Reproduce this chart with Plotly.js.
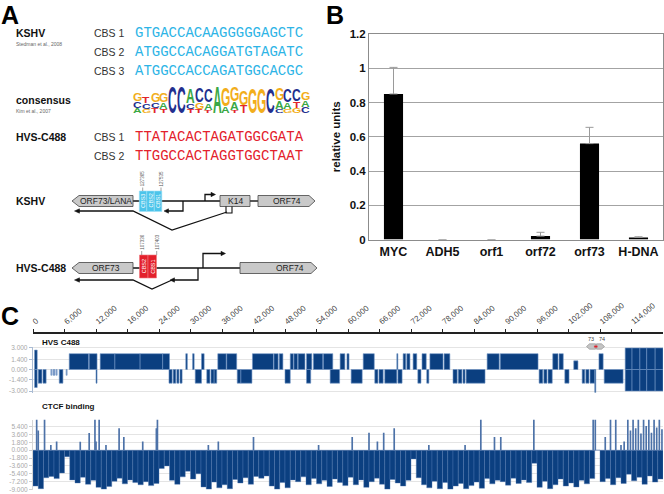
<!DOCTYPE html>
<html><head><meta charset="utf-8">
<script src="https://cdn.plot.ly/plotly-3.0.1.min.js"></script>
<style>html,body{margin:0;padding:0;background:#fff;}#chart{width:664px;height:494px;}</style>
</head><body><div id="chart"></div>
<script>
// ---------------- Panel B data ----------------
const qpcrCategories = ['MYC','ADH5','orf1','orf72','orf73','H-DNA'];
const qpcrValues = [0.85, 0, 0, 0.02, 0.56, 0.012];
const qpcrErrors = [0.155, 0, 0, 0.022, 0.095, 0.004];

// ---------------- Panel A data ----------------
const kshvSites = ['CBS 1','CBS 2','CBS 3'];
const kshvSeqs = ['GTGACCACAAGGGGGAGCTC','ATGGCCACAGGATGTAGATC','ATGGCCACCAGATGGCACGC'];
const hvsSites = ['CBS 1','CBS 2'];
const hvsSeqs = ['TTATACACTAGATGGCGATA','TTGGCCACTAGGTGGCTAAT'];
const logoLetters = ['GCA','TCG','GCT','GAT','C','C','ACT','CGT','CAT','A','GA','GAT','GT','G','G','C','GAC','CAG','CTG','GAC'];
const logoHeights = [[8,6,5],[7,5,4],[9,5,5],[9,6,4],[26],[26],[15,5,4],[15,6,4],[13,7,3],[27],[19,7],[14,8,3],[15,8],[25],[25],[25],[12,8,4],[13,6,4],[12,6,5],[8,6,6]];
const kshvCoords = ['127365','127535'];
const hvsCoords = ['107336','107403'];

// ---------------- Panel C data ----------------
const genomeTickVals = [0,6000,12000,18000,24000,30000,36000,42000,48000,54000,60000,66000,72000,78000,84000,90000,96000,102000,108000,114000];
const genomeTickText = ['0','6,000','12,000','16,000','24,000','30,000','36,000','42,000','48,000','54,000','60,000','66,000','72,000','78,000','84,000','90,000','96,000','102,000','108,000','114,000'];
// ORFs: [start kb, end kb, track value]
const orfPlus = [
[0.3,0.8,2.7],
[6.9,10.6,2.2],[10.7,12.2,2.2],[12.8,15.6,2.2],[15.6,20.4,2.2],[20.4,24.7,2.2],[24.7,26.0,2.2],
[29.1,29.4,2.2],[30.4,30.7,2.2],[32.1,32.6,2.2],[35.2,36.8,2.2],[36.9,38.8,2.2],
[41.8,45.8,2.2],[45.9,46.7,2.2],[46.9,47.6,2.2],[49.0,49.6,2.2],[49.7,50.4,2.2],[50.5,51.8,2.2],
[52.1,53.1,2.2],[53.4,55.2,2.2],[55.3,57.1,2.2],[58.5,59.4,2.2],[59.8,60.2,2.2],[62.9,65.0,2.2],
[69.3,69.5,2.2],[70.5,71.0,2.2],[71.2,71.8,2.2],[72.4,73.1,2.2],[74.1,74.9,2.2],[75.6,78.1,2.2],[78.3,79.4,2.2],
[86.5,88.8,2.2],[89.0,96.2,2.2],[99.0,100.0,2.2],[100.2,101.0,2.2],[103.0,103.8,1.2],[107.8,108.6,2.2],
[112.8,114.1,3.0],[114.1,115.6,3.0],[115.6,116.9,3.0],[116.9,118.5,3.0],[118.5,120.0,3.0]
];
const orfMinus = [
[0.3,0.8,-2.5],[1.0,1.7,-1.9],[1.9,2.5,-1.9],[3.4,3.6,-0.8],[3.8,4.2,-0.8],[4.4,4.6,-0.8],[5.0,5.7,-1.9],[6.3,6.5,-0.8],[12.0,12.2,-1.9],
[25.9,26.5,-1.9],[26.7,27.2,-1.9],[27.4,27.8,-1.9],[28.0,28.4,-1.9],[30.9,32.1,-1.9],[33.1,33.7,-1.9],[33.9,34.5,-1.9],[34.5,35.0,-1.9],
[38.9,39.6,-1.9],[39.6,41.7,-1.9],[48.0,49.0,-1.9],[52.1,52.9,-1.9],[56.6,58.4,-1.9],[60.6,62.7,-1.9],[65.1,65.7,-1.9],[65.9,66.7,-1.9],
[67.0,69.3,-1.9],[69.5,70.3,-1.9],[73.3,73.9,-1.9],[75.0,75.4,-1.9],[80.0,80.8,-1.9],[81.0,81.7,-1.9],[81.9,82.3,-1.9],[82.5,86.1,-1.9],
[96.4,97.1,-1.9],[97.3,97.9,-1.9],[98.1,98.9,-1.9],[101.3,102.1,-1.9],[104.6,105.1,-1.9],[105.3,105.9,-1.9],[106.1,107.0,-1.9],[107.0,107.2,-3.8],
[108.8,112.4,-1.9],
[112.8,114.1,-3.0],[114.1,115.6,-3.0],[115.6,116.9,-3.0],[116.9,118.5,-3.0],[118.5,120.0,-3.0]
];
const hvsTickVals = [3,1.4,0,-1.4,-3];
const hvsTickText = ['3.000','1.400','0.000','-1.400','-3.000'];
// CTCF binding, one value per 1 kb bin (bins 0..119)
const ctcfVals = [-8.2,-8.8,-6.3,-6.0,-6.5,-5.2,-1.5,-6.8,-7.5,-6.2,
-7.8,-6.9,-8.5,-8.9,-8.3,-7.1,-6.4,-7.7,-6.8,-7.4,
-7.9,-7.2,-8.1,-7.6,-4.2,-3.6,-6.9,-7.8,-6.1,-4.8,
-6.6,-5.4,-8.4,-8.9,-7.3,-8.6,-7.9,-8.8,-6.7,-7.5,
-6.3,-7.8,-6.0,-6.4,-5.9,-8.2,-8.9,-7.4,-8.6,-6.8,
-7.2,-6.1,-7.9,-6.5,-7.7,-6.9,-8.3,-6.6,-7.4,-8.1,
-6.2,-7.9,-6.8,-8.5,-7.2,-6.4,-7.8,-8.9,-6.7,-7.5,
-8.2,-6.9,-2.0,-6.3,-7.9,-8.6,-7.1,-8.8,-7.4,-8.9,
-8.2,-7.6,-8.8,-8.1,-7.3,-8.7,-6.5,-7.7,-6.9,-7.2,
-8.0,-6.4,-7.6,-6.8,-7.4,-3.0,-8.5,-7.1,-8.8,-7.9,
-6.6,-8.2,-7.5,-8.4,-6.9,-7.7,-6.5,0,-7.2,-6.5,
-7.9,-6.3,-7.6,-5.5,-7.0,-6.2,-7.8,-5.9,-7.3,-6.6];
const ctcfSpikeKb = [0.7,1.0,2.2,3.4,4.5,9.0,10.7,11.8,12.0,12.6,13.9,16.4,17.3,20.9,23.5,23.7,33.4,35.3,42.0,54.4,60.8,64.0,65.6,66.8,68.8,75.4,82.3,85.3,87.9,89.1,95.4,106.7,107.1,109.0,110.0,111.0,112.0,112.6,113.3,113.8,114.3,114.8,115.3,115.8,116.3,116.8,117.3,117.8,118.3,118.8,119.3,119.8];
const ctcfSpikeVal = [7.0,4.5,7.0,1.2,2.0,1.9,3.9,7.0,2.0,7.0,1.2,5.0,3.0,2.0,5.0,7.0,1.2,2.0,3.0,1.2,3.0,4.0,2.0,4.0,5.0,1.2,1.2,7.0,3.0,3.0,7.0,7.0,7.0,3.0,7.0,7.0,1.2,2.0,7.0,4.5,7.0,5.0,7.0,3.8,7.0,5.5,7.0,4.0,7.0,5.2,7.0,4.8];
const ctcfTickVals = [5.4,3.6,1.8,0,-1.8,-3.6,-5.4,-7.2,-9];
const ctcfTickText = ['5.400','3.600','1.800','0.000','-1.800','-3.600','-5.400','-7.200','-9.000'];

// ---------------- helpers ----------------
const W = 664, H = 494;
const px = x => x / W;
const py = y => 1 - y / H;
const FONT = 'Liberation Sans, Arial, sans-serif';
const BLUE = '#0b3f80', LIGHTBLUE = '#7f9cc8';

const annotations = [];
function txt(x, y, text, size, opts = {}) {
  annotations.push(Object.assign({
    xref:'paper', yref:'paper', x:px(x), y:py(y), text, showarrow:false,
    xanchor:'left', yanchor:'middle', borderpad:0,
    font:{family:FONT, size, color:'#222'}
  }, opts));
}
const shapes = [];
function poly(pts, fill, line, lw, closed = true) {
  const d = 'M ' + pts.map(p => px(p[0]) + ',' + py(p[1])).join(' L ') + (closed ? ' Z' : '');
  shapes.push({type:'path', xref:'paper', yref:'paper', path:d,
    fillcolor: fill || 'rgba(0,0,0,0)', line:{color:line, width:lw}});
}

// ---------------- Panel A ----------------
txt(0, 0, '<b>A</b>', 25, {yanchor:'top', font:{family:FONT,size:25,color:'#000'}});
txt(15, 33, '<b>KSHV</b>', 10.5, {font:{family:FONT,size:10.5,color:'#111'}});
txt(15, 44, 'Stedman et al., 2008', 5, {font:{family:FONT,size:5,color:'#666'}});
kshvSites.forEach((s,i) => {
  const y = 33 + 19*i;
  txt(93, y, s, 10.5, {font:{family:FONT,size:10.5,color:'#333'}});
  txt(134, y, kshvSeqs[i], 14, {font:{family:'Liberation Mono, monospace',size:14,color:'#2db4e6'}});
});
txt(15, 100, '<b>consensus</b>', 10.5, {font:{family:FONT,size:10.5,color:'#111'}});
txt(15, 111, 'Kim et al., 2007', 5, {font:{family:FONT,size:5,color:'#666'}});
txt(15, 137, '<b>HVS-C488</b>', 10.5, {font:{family:FONT,size:10.5,color:'#111'}});
hvsSites.forEach((s,i) => {
  const y = 137 + 19*i;
  txt(93, y, s, 10.5, {font:{family:FONT,size:10.5,color:'#333'}});
  txt(134, y, hvsSeqs[i], 14, {font:{family:'Liberation Mono, monospace',size:14,color:'#e3212b'}});
});

// gene diagrams
const GREY = '#c9c9c9', OUT = '#444';
txt(15, 201, '<b>KSHV</b>', 10.5, {font:{family:FONT,size:10.5,color:'#111'}});
txt(15, 268, '<b>HVS-C488</b>', 10.5, {font:{family:FONT,size:10.5,color:'#111'}});
// KSHV
poly([[133,201],[220,201]], null, '#111', 1.4, false);
poly([[250,201],[258,201]], null, '#111', 1.4, false);
poly([[72,201],[79,195.5],[133,195.5],[133,206.5],[79,206.5]], GREY, OUT, 0.8);
poly([[220,195.5],[250,195.5],[250,206.5],[220,206.5]], GREY, OUT, 0.8);
poly([[258,195.5],[309,195.5],[315,201],[309,206.5],[258,206.5]], GREY, OUT, 0.8);
poly([[205,201],[205,194.5],[211,194.5]], null, '#111', 1.3, false);
poly([[211,192.3],[215.5,194.5],[211,196.7]], '#111', '#111', 0.5);
poly([[79,211],[133,211],[172,230],[227,212]], null, '#111', 1.3, false);
poly([[74.5,211],[79.5,208.8],[79.5,213.2]], '#111', '#111', 0.5);
poly([[168,211],[183,211],[183,201]], null, '#111', 1.3, false);
poly([[164,211],[168.5,208.8],[168.5,213.2]], '#111', '#111', 0.5);
poly([[226,206.5],[226,213],[232,213],[232,206.5]], null, '#111', 1.1, false);
[[139.3,146.8],[146.8,154.3],[154.3,161.8]].forEach(b => poly([[b[0],191],[b[1],191],[b[1],211.5],[b[0],211.5]], '#4cc4ea', '#9fe0f6', 0.6));
['CBS3','CBS2','CBS1'].forEach((t,i) => txt(143 + 7.5*i, 201, t, 5.5, {xanchor:'center', textangle:-90, font:{family:FONT,size:5.5,color:'#fff'}}));
poly([[142.7,187.5],[142.7,191]], null, '#666', 0.6, false);
poly([[161,187.5],[161,191]], null, '#666', 0.6, false);
txt(142.7, 178.5, kshvCoords[0], 4.5, {xanchor:'center', textangle:-90, font:{family:FONT,size:4.5,color:'#555'}});
txt(161, 178.5, kshvCoords[1], 4.5, {xanchor:'center', textangle:-90, font:{family:FONT,size:4.5,color:'#555'}});
txt(106, 201, 'ORF73/LANA', 8.5, {xanchor:'center', font:{family:FONT,size:8.5,color:'#222'}});
txt(235, 201, 'K14', 8.5, {xanchor:'center', font:{family:FONT,size:8.5,color:'#222'}});
txt(287, 201, 'ORF74', 8.5, {xanchor:'center', font:{family:FONT,size:8.5,color:'#222'}});
// HVS
poly([[133,268],[240,268]], null, '#111', 1.4, false);
poly([[72,268],[79,262.5],[133,262.5],[133,273.5],[79,273.5]], GREY, OUT, 0.8);
poly([[240,262.5],[311,262.5],[317,268],[311,273.5],[240,273.5]], GREY, OUT, 0.8);
poly([[203,268],[203,253.5],[221,253.5]], null, '#111', 1.3, false);
poly([[221,251.3],[225.5,253.5],[221,255.7]], '#111', '#111', 0.5);
poly([[79,280],[133,280],[152,289],[172,280]], null, '#111', 1.3, false);
poly([[74.5,280],[79.5,277.8],[79.5,282.2]], '#111', '#111', 0.5);
poly([[174,280],[198,280],[198,268]], null, '#111', 1.3, false);
poly([[170,280],[174.5,277.8],[174.5,282.2]], '#111', '#111', 0.5);
[[139.5,148],[148,156.5]].forEach(b => poly([[b[0],255],[b[1],255],[b[1],278],[b[0],278]], '#e3202b', '#f07a82', 0.6));
['CBS2','CBS1'].forEach((t,i) => txt(143.8 + 8.5*i, 266.5, t, 5.5, {xanchor:'center', textangle:-90, font:{family:FONT,size:5.5,color:'#fff'}}));
poly([[141.7,251],[141.7,255]], null, '#666', 0.6, false);
poly([[156.7,251],[156.7,255]], null, '#666', 0.6, false);
txt(141.7, 242, hvsCoords[0], 4.5, {xanchor:'center', textangle:-90, font:{family:FONT,size:4.5,color:'#555'}});
txt(156.7, 242, hvsCoords[1], 4.5, {xanchor:'center', textangle:-90, font:{family:FONT,size:4.5,color:'#555'}});
txt(106, 268, 'ORF73', 8.5, {xanchor:'center', font:{family:FONT,size:8.5,color:'#222'}});
txt(290, 268, 'ORF74', 8.5, {xanchor:'center', font:{family:FONT,size:8.5,color:'#222'}});

// ---------------- Panel labels B, C ----------------
txt(325, 0, '<b>B</b>', 25, {yanchor:'top', font:{family:FONT,size:25,color:'#000'}});
txt(0, 316, '<b>C</b>', 25, {font:{family:FONT,size:25,color:'#000'}});
txt(41, 342, '<b>HVS C488</b>', 8, {font:{family:FONT,size:8,color:'#111'}});
txt(41, 406, '<b>CTCF binding</b>', 8, {font:{family:FONT,size:8,color:'#111'}});
txt(591, 338.5, '73', 5.5, {xanchor:'center', font:{family:FONT,size:5.5,color:'#444'}});
txt(601.5, 338.5, '74', 5.5, {xanchor:'center', font:{family:FONT,size:5.5,color:'#444'}});
poly([[586.5,346.5],[589.5,343.8],[595.5,343.8],[595.5,349.2],[589.5,349.2]], '#c4c4c4', '#888', 0.6);
poly([[596.5,343.8],[601.5,343.8],[604.5,346.5],[601.5,349.2],[596.5,349.2]], '#c4c4c4', '#888', 0.6);
poly([[594.3,345.8],[597.3,345.8],[597.3,347.3],[594.3,347.3]], '#e3202b', '#e3202b', 0.3);

// ---------------- Sequence logo (letters scaled after render) ----------------
const logoColors = {A:'#3aa845', C:'#232f8e', G:'#f2ae1c', T:'#e1262a'};
const LOGO_X0 = 133, LOGO_COLW = 8.85, LOGO_BASE = 113, LOGO_FS = 12;
const logoAnnStart = annotations.length;
const logoTargets = [];
logoLetters.forEach((stack, i) => {
  let yb = LOGO_BASE;
  for (let j = stack.length - 1; j >= 0; j--) {
    const L = stack[j];
    txt(LOGO_X0 + LOGO_COLW*(i+0.5), 100, '<b>' + L + '</b>', LOGO_FS,
        {xanchor:'center', font:{family:'Liberation Sans, Arial, sans-serif', size:LOGO_FS, color:logoColors[L]}});
    logoTargets.push({base: yb, h: logoHeights[i][j]});
    yb -= logoHeights[i][j] + 0.4;
  }
});

// ---------------- traces ----------------
const data = [];
// Panel B
data.push({
  type:'bar', x:qpcrCategories, y:qpcrValues, xaxis:'x', yaxis:'y', width:0.39,
  marker:{color:'#000', line:{width:0}},
  error_y:{type:'data', array:qpcrErrors, arrayminus:qpcrErrors.map(() => 0), symmetric:false, color:'#9a9a9a', thickness:1, width:4},
  hoverinfo:'skip', showlegend:false
});
// Panel C - ORF track
function orfTrace(list) {
  return {
    type:'bar', xaxis:'x2', yaxis:'y2',
    x: list.map(o => (o[0] + o[1]) / 2 * 1000),
    width: list.map(o => (o[1] - o[0]) * 1000),
    y: list.map(o => o[2]),
    marker:{color: list.map(o => Math.abs(o[2]) < 1 ? LIGHTBLUE : BLUE), line:{color:'#6f93c4', width:0.6}},
    hoverinfo:'skip', showlegend:false
  };
}
data.push(orfTrace(orfPlus));
data.push(orfTrace(orfMinus));
// CTCF
data.push({
  type:'bar', xaxis:'x3', yaxis:'y3',
  x: ctcfVals.map((v, i) => (i + 0.5) * 1000), width: 1000, y: ctcfVals,
  marker:{color:BLUE, line:{color:'#5479b0', width:0.4}}, hoverinfo:'skip', showlegend:false
});
data.push({
  type:'bar', xaxis:'x3', yaxis:'y3',
  x: ctcfSpikeKb.map(k => k * 1000), width: 320, y: ctcfSpikeVal,
  marker:{color:'#4d72a8', line:{width:0}}, hoverinfo:'skip', showlegend:false
});
// carrier for top genome axis
data.push({type:'scatter', mode:'markers', x:[0], y:[0], xaxis:'x4', yaxis:'y2', marker:{opacity:0}, hoverinfo:'skip', showlegend:false});

const cDomainX = [px(33), px(663)];
const layout = {
  width: W, height: H, margin:{l:0, r:0, t:0, b:0},
  paper_bgcolor:'#fff', plot_bgcolor:'rgba(0,0,0,0)',
  font:{family:FONT, color:'#222'},
  barmode:'overlay', showlegend:false,
  xaxis:{domain:[px(369), px(663)], anchor:'y', showline:true, mirror:true, linecolor:'#8c8c8c', linewidth:1,
    ticks:'', tickfont:{family:FONT, size:12.5, color:'#111', weight:'bold'}, fixedrange:true},
  yaxis:{domain:[py(239.5), py(34)], anchor:'x', range:[0,1.2], dtick:0.2, showline:true, mirror:true, linecolor:'#8c8c8c',
    gridcolor:'#a3a3a3', gridwidth:1, zeroline:false, ticks:'', ticklen:0,
    tickfont:{family:FONT, size:11.5, color:'#111', weight:'bold'},
    title:{text:'relative units', font:{family:FONT, size:11.5, color:'#111', weight:'bold'}, standoff:6}},
  xaxis2:{domain:cDomainX, anchor:'y2', range:[0,120000], visible:false},
  yaxis2:{domain:[py(392.5), py(346.5)], anchor:'x2', range:[-3.2,3.2], tickvals:hvsTickVals, ticktext:hvsTickText,
    showline:true, linecolor:'#a9bbd3', linewidth:1.2, ticks:'outside', ticklen:3, tickcolor:'#a9bbd3',
    gridcolor:'#e4e4e4', zeroline:false, tickfont:{family:FONT, size:6.5, color:'#a8a8a8'}},
  xaxis3:{domain:cDomainX, anchor:'y3', range:[0,120000], visible:false},
  yaxis3:{domain:[py(490), py(419.5)], anchor:'x3', range:[-9.1,7.0], tickvals:ctcfTickVals, ticktext:ctcfTickText,
    showline:true, linecolor:'#d6d6d6', ticks:'outside', ticklen:3, tickcolor:'#cfcfcf',
    gridcolor:'#e4e4e4', zeroline:false, tickfont:{family:FONT, size:6.5, color:'#a8a8a8'}},
  xaxis4:{overlaying:'x2', anchor:'free', position:py(333), side:'top', range:[0,120000],
    tickvals:genomeTickVals, ticktext:genomeTickText, tickangle:-40,
    showline:true, linecolor:'#222', linewidth:2, ticks:'outside', ticklen:3, tickcolor:'#222',
    showgrid:false, zeroline:false, tickfont:{family:FONT, size:8, color:'#444'}},
  annotations, shapes
};

Plotly.newPlot('chart', data, layout, {staticPlot:true, displayModeBar:false}).then(gd => {
  logoTargets.forEach((t, k) => {
    const g = gd.querySelector('.annotation[data-index="' + (logoAnnStart + k) + '"]');
    if (!g) return;
    const te = g.querySelector('text');
    if (!te) return;
    const bb = te.getBBox();
    const m = te.getCTM();
    const base = bb.y + 0.905 * LOGO_FS;
    const s = t.h / (0.716 * LOGO_FS);
    const ybLocal = (t.base - m.f) / m.d;
    te.setAttribute('transform', 'translate(0,' + ybLocal + ') scale(1,' + s + ') translate(0,' + (-base) + ')');
  });
});
</script>
</body></html>
